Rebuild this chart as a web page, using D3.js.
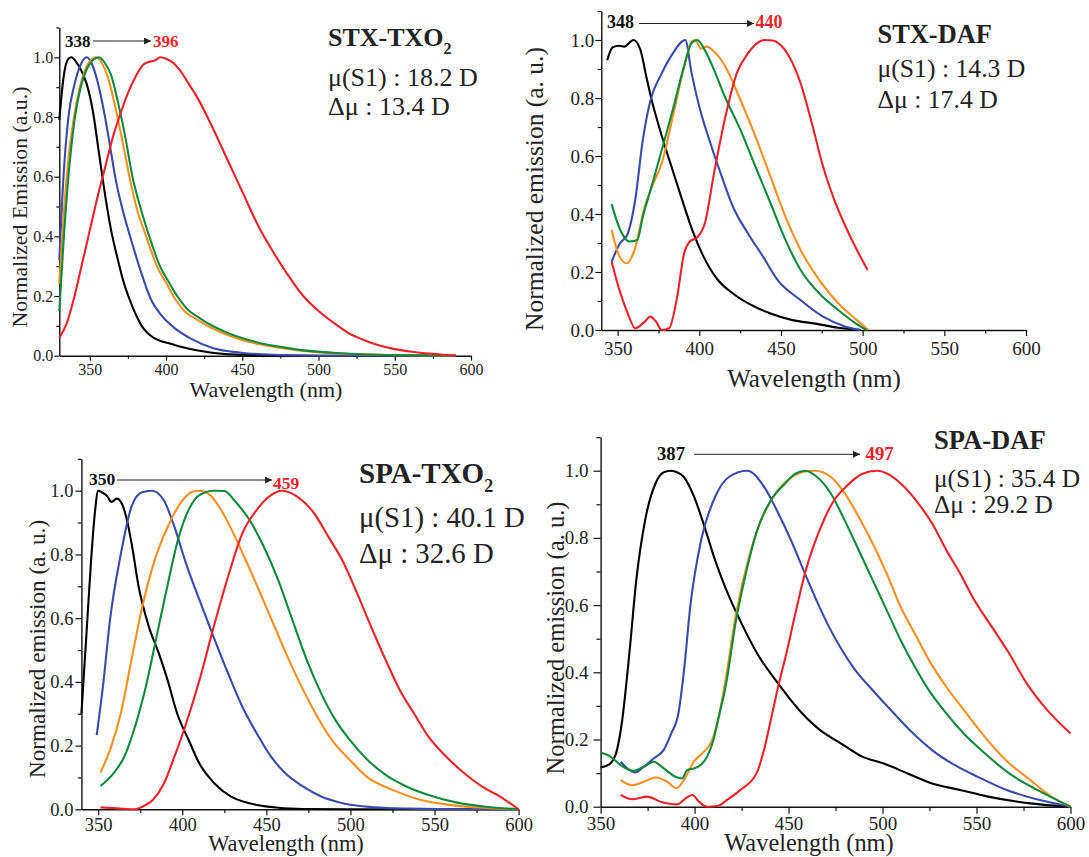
<!DOCTYPE html>
<html>
<head>
<meta charset="utf-8">
<script src="https://cdn.jsdelivr.net/npm/d3@7"></script>
<style>
  body { margin: 0; background: #fff; }
  svg { display: block; }
  text { font-family: "Liberation Serif", "Times New Roman", "DejaVu Serif", serif; }
</style>
</head>
<body>
<svg id="chart" width="1089" height="857"></svg>
<script>
// ---- tick values ----
const wavelengthTicks = [350, 400, 450, 500, 550, 600];
const wavelengthMinorTicks = [375, 425, 475, 525, 575];
const emissionTicks = [0, 0.2, 0.4, 0.6, 0.8, 1.0];
const emissionMinorTicks = [0.1, 0.3, 0.5, 0.7, 0.9, 1.1];

// ---- STX-TXO2 spectra: [wavelength nm, normalized emission] ----
const stxTxo2Black = [[330,0.79],[333,0.94],[336,0.995],[338,1.0],[341,0.985],[344,0.96],[348,0.91],[352,0.82],[356,0.68],[360,0.54],[364,0.42],[368,0.33],[372,0.25],[376,0.19],[380,0.14],[384,0.10],[388,0.075],[392,0.06],[396,0.05],[403,0.04],[411,0.028],[420,0.018],[430,0.01],[445,0.004],[470,0.001],[500,0],[590,0]];
const stxTxo2Blue = [[330,0.32],[333,0.62],[336,0.80],[340,0.91],[344,0.975],[348,1.0],[352,0.97],[356,0.90],[360,0.80],[364,0.68],[367,0.59],[372,0.48],[377,0.39],[383,0.29],[390,0.19],[397,0.135],[405,0.095],[416,0.058],[431,0.025],[449,0.01],[470,0.003],[500,0],[590,0]];
const stxTxo2Orange = [[330,0.24],[333,0.48],[336,0.66],[340,0.81],[344,0.91],[348,0.97],[354,1.0],[358,0.98],[362,0.93],[366,0.85],[371,0.73],[376,0.60],[381,0.49],[387,0.40],[394,0.30],[400,0.245],[406,0.19],[412,0.15],[420,0.122],[430,0.093],[440,0.07],[450,0.053],[460,0.04],[475,0.026],[490,0.016],[510,0.008],[540,0.003],[570,0.001],[590,0]];
const stxTxo2Green = [[330,0.15],[333,0.40],[336,0.60],[340,0.79],[344,0.90],[348,0.96],[352,0.99],[356,1.0],[360,0.98],[364,0.94],[368,0.86],[373,0.74],[378,0.60],[383,0.50],[389,0.40],[396,0.30],[402,0.245],[408,0.195],[414,0.156],[422,0.126],[432,0.096],[442,0.073],[452,0.056],[462,0.042],[477,0.028],[492,0.017],[512,0.009],[540,0.003],[570,0.001],[590,0]];
const stxTxo2Red = [[330,0.06],[335,0.11],[340,0.20],[345,0.31],[350,0.42],[355,0.53],[360,0.63],[365,0.73],[370,0.81],[375,0.88],[380,0.935],[385,0.975],[389,0.985],[393,0.99],[396,1.0],[400,0.995],[405,0.98],[410,0.95],[415,0.91],[420,0.87],[430,0.77],[440,0.66],[450,0.55],[460,0.44],[470,0.35],[480,0.27],[490,0.20],[500,0.15],[510,0.11],[520,0.075],[530,0.052],[540,0.034],[550,0.022],[560,0.014],[570,0.008],[580,0.004],[590,0]];

// ---- STX-DAF spectra ----
const stxDafBlack = [[343.6,0.93],[347,0.975],[351,0.98],[354,0.977],[359.7,1.0],[364,0.965],[367.7,0.87],[371,0.79],[377,0.67],[384,0.545],[390,0.44],[396,0.34],[402,0.26],[411,0.175],[420.6,0.126],[434,0.08],[443.6,0.057],[457,0.034],[471,0.022],[485,0.008],[499,0]];
const stxDafBlue = [[346.3,0.236],[351.6,0.30],[356,0.33],[360.8,0.45],[365.4,0.655],[370,0.79],[377,0.885],[383.8,0.954],[391.4,1.0],[395.3,0.885],[400,0.77],[406.8,0.644],[413.7,0.53],[420.6,0.425],[429.8,0.333],[439,0.253],[448,0.172],[462,0.103],[475.8,0.046],[489.6,0.0115],[498.8,0]];
const stxDafOrange = [[346.3,0.345],[351.2,0.253],[355.5,0.23],[360,0.27],[366.6,0.425],[371,0.494],[377,0.575],[383.8,0.736],[390.7,0.908],[395.3,0.994],[397.6,1.0],[401,0.97],[404.5,0.977],[409,0.96],[416,0.908],[425.2,0.793],[434.4,0.667],[443.6,0.529],[452.8,0.39],[462,0.276],[473.5,0.172],[485,0.092],[496.5,0.034],[503.4,0]];
const stxDafGreen = [[346.3,0.434],[351.6,0.345],[357.4,0.305],[362,0.31],[365.4,0.39],[370,0.48],[377,0.62],[383.8,0.76],[390.7,0.91],[395.3,0.99],[398.8,1.0],[403.4,0.965],[409,0.897],[416,0.80],[425.2,0.69],[434.4,0.563],[443.6,0.437],[452.8,0.31],[462,0.207],[473.5,0.126],[485,0.069],[494.2,0.029],[502.3,0]];
const stxDafRed = [[346.3,0.236],[350.5,0.149],[356.2,0.057],[360.8,0.006],[366.6,0.029],[370,0.046],[373.5,0.029],[377,0.0],[381.5,0.006],[386.1,0.103],[390.7,0.264],[394.2,0.305],[398.8,0.32],[403.4,0.368],[409,0.54],[416,0.736],[422.9,0.885],[429.8,0.954],[436.7,0.994],[440,1.0],[445,0.998],[448.2,0.99],[455,0.943],[462,0.851],[468.9,0.713],[475.8,0.563],[482.7,0.448],[489.6,0.356],[496.5,0.276],[503,0.207]];

// ---- SPA-TXO2 spectra ----
const spaTxo2Black = [[340,0.30],[343,0.55],[346,0.80],[348,0.93],[350,1.0],[352,0.995],[355,0.985],[358,0.965],[361,0.975],[364,0.96],[367,0.91],[370,0.83],[374,0.70],[380,0.575],[386,0.49],[391,0.41],[397,0.30],[404,0.215],[410,0.145],[419,0.082],[429,0.04],[440,0.019],[457,0.005],[472,0.001],[500,0],[600,0]];
const spaTxo2Blue = [[349.1,0.233],[352.8,0.385],[357,0.594],[363.4,0.80],[369.8,0.95],[376,0.995],[382,1.0],[389,0.97],[395.3,0.887],[401.7,0.78],[410.2,0.657],[418.7,0.54],[427.2,0.427],[435.7,0.322],[444.3,0.238],[452.8,0.165],[461.3,0.113],[472,0.071],[482.6,0.04],[495.3,0.019],[514.5,0.006],[535.7,0.002],[567.7,0],[600,0]];
const spaTxo2Orange = [[351.3,0.115],[357,0.186],[363.4,0.30],[369.8,0.47],[376.2,0.636],[384.7,0.80],[393.2,0.908],[399.6,0.966],[406,0.997],[410.2,1.0],[416.6,0.986],[423,0.94],[429.4,0.877],[437.9,0.78],[446.4,0.678],[454.9,0.573],[463.4,0.469],[471.9,0.374],[480.4,0.29],[488.9,0.218],[499.6,0.155],[510.2,0.10],[525.1,0.061],[542,0.029],[559,0.014],[578.3,0.005],[600,0]];
const spaTxo2Green = [[351.3,0.073],[359.1,0.113],[365.5,0.165],[371.9,0.26],[378.3,0.385],[384.7,0.542],[391.1,0.70],[397.4,0.845],[403.8,0.94],[410.2,0.986],[418.7,1.0],[425.1,0.999],[431.5,0.966],[440,0.908],[448.5,0.824],[457,0.72],[465.5,0.594],[474,0.469],[482.6,0.364],[491.1,0.28],[499.6,0.218],[510.2,0.155],[520.9,0.108],[533.6,0.071],[546.4,0.045],[563.4,0.021],[580.4,0.008],[600,0]];
const spaTxo2Red = [[351.3,0.006],[361.3,0.003],[372,0.0],[376.2,0.008],[382.6,0.03],[389,0.08],[395.3,0.165],[401.7,0.26],[410.2,0.405],[418.7,0.573],[427.2,0.73],[435.7,0.866],[444.3,0.94],[452.8,0.986],[459,1.0],[469.8,0.976],[478.3,0.93],[486.8,0.856],[495.3,0.78],[503.8,0.68],[512.3,0.573],[520.9,0.469],[529.4,0.374],[537.9,0.30],[546.4,0.228],[557,0.165],[567.7,0.113],[578.3,0.071],[589,0.04],[600,0]];

// ---- SPA-DAF spectra ----
const spaDafBlack = [[350,0.117],[354.4,0.125],[358,0.155],[361.5,0.258],[365.3,0.456],[369,0.675],[373.7,0.853],[379.2,0.962],[383.5,0.995],[387,1.0],[390,0.997],[394.2,0.982],[399.7,0.923],[405.3,0.833],[410.9,0.734],[418.4,0.625],[425.8,0.536],[433.3,0.456],[444.4,0.367],[455.6,0.288],[466.8,0.228],[478,0.188],[489.2,0.149],[500.3,0.129],[513.4,0.099],[526.4,0.069],[541.3,0.05],[556.2,0.03],[578.6,0.01],[600,0]];
const spaDafBlue = [[360.6,0.134],[364.2,0.114],[368.6,0.102],[373,0.119],[378.3,0.144],[383.6,0.169],[387.6,0.218],[391.4,0.278],[394.2,0.397],[397.9,0.605],[403.5,0.794],[411,0.923],[418.4,0.982],[428,1.0],[437,0.952],[444.4,0.875],[451.9,0.785],[459,0.69],[466,0.60],[472,0.53],[478,0.47],[485,0.41],[495,0.345],[504,0.29],[515,0.225],[526,0.17],[538,0.125],[551,0.088],[565,0.052],[582,0.022],[600,0]];
const spaDafOrange = [[360.6,0.079],[366.8,0.064],[373,0.074],[379.2,0.087],[385.5,0.074],[390.4,0.055],[394.3,0.079],[399.6,0.134],[405,0.164],[409.4,0.198],[412.5,0.26],[416.5,0.377],[422.1,0.575],[429.5,0.754],[437,0.873],[444.4,0.942],[451.9,0.982],[458,0.997],[464,1.0],[472.4,0.982],[479.8,0.933],[487.3,0.863],[494.7,0.784],[502.2,0.694],[509.6,0.595],[517.1,0.516],[524.6,0.437],[533.9,0.357],[543.2,0.288],[554.4,0.208],[565.5,0.139],[578.6,0.079],[589.8,0.03],[600,0]];
const spaDafGreen = [[350,0.161],[355.3,0.149],[360.6,0.124],[367.7,0.107],[373,0.119],[378.3,0.134],[383.6,0.114],[389.8,0.089],[393.4,0.084],[396,0.109],[399.6,0.114],[403.2,0.124],[406.7,0.149],[410,0.198],[413,0.27],[416.5,0.357],[422.1,0.556],[427.7,0.704],[433.3,0.823],[440.7,0.913],[448.2,0.962],[453.8,0.992],[459,1.0],[465,0.982],[472.4,0.933],[479.8,0.853],[487.3,0.764],[494.7,0.675],[502.2,0.585],[509.6,0.496],[517.1,0.417],[524.6,0.347],[533.9,0.278],[543.2,0.218],[554.4,0.159],[567.4,0.099],[582.3,0.05],[600,0]];
const spaDafRed = [[360.6,0.035],[366.8,0.022],[374.8,0.030],[381.9,0.015],[390.8,0.007],[396,0.028],[398.8,0.035],[402.3,0.015],[406.7,0.0],[412,0.002],[417.3,0.02],[424.4,0.05],[433,0.10],[437,0.17],[441,0.27],[445,0.37],[449,0.46],[453,0.56],[459,0.70],[467,0.83],[474,0.91],[482,0.96],[489,0.99],[497,1.0],[504,0.987],[511.5,0.952],[519,0.903],[526.4,0.843],[533.9,0.764],[541.3,0.694],[548.8,0.615],[558.1,0.536],[567.4,0.456],[576.7,0.367],[586,0.298],[600,0.218]];

// ---- series colours (low to high polarity) ----
const seriesColors = ["#000000", "#3a4aa8", "#f7901e", "#0f8a3d", "#ed2229"];

// ---- panel text ----
const panelTitles = ["STX-TXO", "STX-DAF", "SPA-TXO", "SPA-DAF"];
const titleSubscripts = ["2", "", "2", ""];
const dipoleS1 = ["μ(S1) : 18.2 D", "μ(S1) : 14.3 D", "μ(S1) : 40.1 D", "μ(S1) : 35.4 D"];
const dipoleDelta = ["Δμ : 13.4 D", "Δμ : 17.4 D", "Δμ : 32.6 D", "Δμ : 29.2 D"];
const peakStart = ["338", "348", "350", "387"];
const peakEnd = ["396", "440", "459", "497"];
const yTitles = ["Normalized Emission (a.u.)", "Normalized emission (a. u.)", "Normalized emission (a. u.)", "Normalized emission (a. u.)"];
const xTitle = "Wavelength (nm)";

const panelSeries = [
  [stxTxo2Black, stxTxo2Blue, stxTxo2Orange, stxTxo2Green, stxTxo2Red],
  [stxDafBlack, stxDafBlue, stxDafOrange, stxDafGreen, stxDafRed],
  [spaTxo2Black, spaTxo2Blue, spaTxo2Orange, spaTxo2Green, spaTxo2Red],
  [spaDafBlack, spaDafBlue, spaDafOrange, spaDafGreen, spaDafRed]
];

// ---- layout of each panel ----
const layouts = [
  { xMin: 330, left: 59.3, right: 471, bottom: 355.7, unit: 298.4, tickFont: 16, yPad: 1, xPad: 2.5, tick: 5,
    xTitleX: 266, xTitleY: 397, xTitleFont: 22, yTitleX: 27, yTitleY: 207, yTitleFont: 21.8,
    titleX: 328, titleY: 46, titleFont: 26, muY: 86, dmuY: 115, muFont: 26,
    annoFont: 17, startX: 65, annoY: 47, arrowX1: 93, arrowX2: 151, arrowY: 41, endX: 153, endY: 47 },
  { xMin: 340, left: 601.3, right: 1026, bottom: 330, unit: 290, tickFont: 19, yPad: 1, xPad: 6, tick: 6,
    xTitleX: 814, xTitleY: 387, xTitleFont: 25, yTitleX: 543, yTitleY: 189, yTitleFont: 25.5,
    titleX: 877.5, titleY: 43, titleFont: 26.4, muY: 77, dmuY: 108, muFont: 25.7,
    annoFont: 18, startX: 607, annoY: 28, arrowX1: 639, arrowX2: 754, arrowY: 23.5, endX: 755.5, endY: 28 },
  { xMin: 340, left: 81.4, right: 518.6, bottom: 809.3, unit: 318.6, tickFont: 18.5, yPad: 2, xPad: 3, tick: 6,
    xTitleX: 286, xTitleY: 851, xTitleFont: 22.4, yTitleX: 45, yTitleY: 649, yTitleFont: 23.2,
    titleX: 359, titleY: 483, titleFont: 29, muY: 527, dmuY: 563, muFont: 28.8,
    annoFont: 17.5, startX: 89, annoY: 485, arrowX1: 117, arrowX2: 272, arrowY: 480, endX: 273, endY: 488.5 },
  { xMin: 350, left: 600.6, right: 1070.5, bottom: 806.7, unit: 336, tickFont: 19, yPad: 5, xPad: 3, tick: 7,
    xTitleX: 809, xTitleY: 851, xTitleFont: 24.4, yTitleX: 564, yTitleY: 638, yTitleFont: 24.5,
    titleX: 934, titleY: 449, titleFont: 26.6, muY: 487, dmuY: 513, muFont: 25.4,
    annoFont: 18.7, startX: 657, annoY: 460, arrowX1: 694, arrowX2: 860, arrowY: 454.3, endX: 865.6, endY: 460 }
];

const svg = d3.select("#chart");
const serif = '"Liberation Serif", "Times New Roman", "DejaVu Serif", serif';

svg.append("defs").append("marker")
  .attr("id", "arrowhead")
  .attr("viewBox", "0 0 10 10")
  .attr("refX", 10).attr("refY", 5)
  .attr("markerWidth", 9).attr("markerHeight", 7)
  .attr("markerUnits", "userSpaceOnUse")
  .attr("orient", "auto")
  .append("path").attr("d", "M0,0 L10,5 L0,10 Z").attr("fill", "#222");

layouts.forEach((L, i) => {
  const g = svg.append("g").attr("font-family", serif);
  const x = d3.scaleLinear().domain([L.xMin, 600]).range([L.left, L.right]);
  const y = d3.scaleLinear().domain([0, 1.1]).range([L.bottom, L.bottom - 1.1 * L.unit]);

  // minor ticks
  g.append("g").attr("transform", `translate(0,${L.bottom})`)
    .call(d3.axisBottom(x).tickValues(wavelengthMinorTicks.filter(v => v > L.xMin)).tickSize(L.tick * 0.6).tickFormat(""))
    .call(a => a.select(".domain").remove());
  g.append("g").attr("transform", `translate(${L.left},0)`)
    .call(d3.axisLeft(y).tickValues(emissionMinorTicks).tickSize(L.tick * 0.6).tickFormat(""))
    .call(a => a.select(".domain").remove());

  // major axes
  const xa = g.append("g").attr("transform", `translate(0,${L.bottom})`)
    .call(d3.axisBottom(x).tickValues(wavelengthTicks).tickSize(L.tick).tickPadding(L.xPad).tickSizeOuter(0).tickFormat(d3.format("d")));
  const ya = g.append("g").attr("transform", `translate(${L.left},0)`)
    .call(d3.axisLeft(y).tickValues(emissionTicks).tickSize(L.tick).tickPadding(L.yPad).tickSizeOuter(0).tickFormat(d3.format(".1f")));
  [xa, ya].forEach(a => {
    a.attr("font-family", serif).attr("font-size", null);
    a.selectAll("text").attr("font-size", L.tickFont).attr("font-family", serif).attr("fill", "#222");
    a.selectAll("line, path").attr("stroke", "#111").attr("stroke-width", 1.4);
  });
  g.selectAll(".tick line").attr("stroke", "#111").attr("stroke-width", 1.2);

  // spectra
  const line = d3.line().x(d => x(d[0])).y(d => y(d[1])).curve(d3.curveMonotoneX);
  panelSeries[i].forEach((s, k) => {
    g.append("path").datum(s)
      .attr("d", line)
      .attr("fill", "none")
      .attr("stroke", seriesColors[k])
      .attr("stroke-width", 2.1)
      .attr("stroke-linejoin", "round");
  });

  // axis titles
  g.append("text").attr("x", L.xTitleX).attr("y", L.xTitleY)
    .attr("text-anchor", "middle").attr("font-size", L.xTitleFont).attr("fill", "#222")
    .text(xTitle);
  g.append("text").attr("transform", `translate(${L.yTitleX},${L.yTitleY}) rotate(-90)`)
    .attr("text-anchor", "middle").attr("font-size", L.yTitleFont).attr("fill", "#222")
    .text(yTitles[i]);

  // compound name and dipole moments
  const t = g.append("text").attr("x", L.titleX).attr("y", L.titleY)
    .attr("font-size", L.titleFont).attr("font-weight", "bold").attr("fill", "#222")
    .text(panelTitles[i]);
  if (titleSubscripts[i]) {
    t.append("tspan").attr("dy", L.titleFont * 0.32).attr("font-size", L.titleFont * 0.62)
      .text(titleSubscripts[i]);
  }
  g.append("text").attr("x", L.titleX).attr("y", L.muY)
    .attr("font-size", L.muFont).attr("fill", "#222").text(dipoleS1[i]);
  g.append("text").attr("x", L.titleX).attr("y", L.dmuY)
    .attr("font-size", L.muFont).attr("fill", "#222").text(dipoleDelta[i]);

  // peak shift annotation
  g.append("text").attr("x", L.startX).attr("y", L.annoY)
    .attr("font-size", L.annoFont).attr("font-weight", "bold").attr("fill", "#111")
    .text(peakStart[i]);
  g.append("line")
    .attr("x1", L.arrowX1).attr("x2", L.arrowX2).attr("y1", L.arrowY).attr("y2", L.arrowY)
    .attr("stroke", "#222").attr("stroke-width", 1)
    .attr("marker-end", "url(#arrowhead)");
  g.append("text").attr("x", L.endX).attr("y", L.endY)
    .attr("font-size", L.annoFont).attr("font-weight", "bold").attr("fill", seriesColors[4])
    .text(peakEnd[i]);
});
</script>
</body>
</html>
